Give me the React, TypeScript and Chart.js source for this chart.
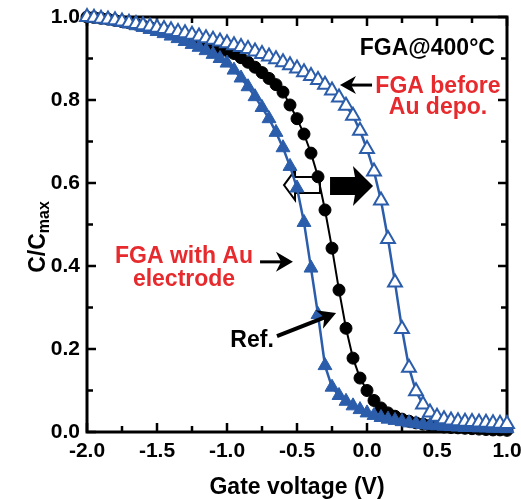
import React, { useEffect, useRef } from "react";
import { Chart, registerables } from "chart.js";

Chart.register(...registerables);

const gateVoltage = [
  -2.0, -1.95, -1.9, -1.85, -1.8, -1.75, -1.7, -1.65, -1.6, -1.55,
  -1.5, -1.45, -1.4, -1.35, -1.3, -1.25, -1.2, -1.15, -1.1, -1.05,
  -1.0, -0.95, -0.9, -0.85, -0.8, -0.75, -0.7, -0.65, -0.6, -0.55,
  -0.5, -0.45, -0.4, -0.35, -0.3, -0.25, -0.2, -0.15, -0.1, -0.05,
  0.0, 0.05, 0.1, 0.15, 0.2, 0.25, 0.3, 0.35, 0.4, 0.45,
  0.5, 0.55, 0.6, 0.65, 0.7, 0.75, 0.8, 0.85, 0.9, 0.95, 1.0,
];

const refValues = [
  1.0, 0.999, 0.997, 0.995, 0.992, 0.989, 0.986, 0.983, 0.979, 0.975,
  0.971, 0.967, 0.963, 0.958, 0.953, 0.948, 0.943, 0.937, 0.931, 0.925,
  0.919, 0.912, 0.902, 0.891, 0.879, 0.866, 0.852, 0.837, 0.819, 0.788,
  0.755, 0.718, 0.672, 0.615, 0.535, 0.443, 0.342, 0.25, 0.178, 0.13,
  0.1, 0.076, 0.058, 0.046, 0.038, 0.031, 0.026, 0.022, 0.019, 0.016,
  0.014, 0.012, 0.011, 0.01, 0.009, 0.008, 0.007, 0.006, 0.005, 0.005, 0.004,
];

const auElectrodeValues = [
  1.0, 0.998, 0.996, 0.993, 0.99, 0.987, 0.983, 0.979, 0.975, 0.97,
  0.965, 0.96, 0.954, 0.948, 0.941, 0.934, 0.927, 0.919, 0.91, 0.9,
  0.889, 0.872, 0.853, 0.832, 0.808, 0.782, 0.755, 0.722, 0.685, 0.64,
  0.588, 0.505, 0.395, 0.283, 0.16, 0.108, 0.088, 0.074, 0.063, 0.054,
  0.046, 0.04, 0.035, 0.031, 0.028, 0.025, 0.022, 0.02, 0.018, 0.016,
  0.015, 0.014, 0.013, 0.012, 0.011, 0.011, 0.01, 0.01, 0.009, 0.009, 0.008,
];

const beforeAuValues = [
  1.0, 0.998, 0.996, 0.994, 0.992, 0.989, 0.986, 0.983, 0.98, 0.977,
  0.974, 0.971, 0.968, 0.964, 0.961, 0.957, 0.953, 0.949, 0.945, 0.941,
  0.937, 0.932, 0.928, 0.923, 0.917, 0.911, 0.905, 0.898, 0.891, 0.884,
  0.876, 0.867, 0.858, 0.848, 0.837, 0.823, 0.806, 0.786, 0.762, 0.726,
  0.682, 0.628, 0.558, 0.465, 0.36, 0.248, 0.155, 0.098, 0.066, 0.047,
  0.037, 0.031, 0.028, 0.026, 0.025, 0.024, 0.023, 0.022, 0.021, 0.02, 0.019,
];

const xTickValues = [-2.0, -1.5, -1.0, -0.5, 0.0, 0.5, 1.0];
const xMinorTickValues = [-1.75, -1.25, -0.75, -0.25, 0.25, 0.75];
const yTickValues = [0.0, 0.2, 0.4, 0.6, 0.8, 1.0];
const yMinorTickValues = [0.1, 0.3, 0.5, 0.7, 0.9];

const BLUE = "#2b5dab";
const RED = "#e62a2d";
const FONT = '"Liberation Sans", Arial, sans-serif';

function drawLineArrow(
  ctx: CanvasRenderingContext2D,
  x1: number, y1: number, x2: number, y2: number,
  headLen: number, headHalf: number, width: number
) {
  const dx = x2 - x1;
  const dy = y2 - y1;
  const len = Math.hypot(dx, dy);
  const ux = dx / len;
  const uy = dy / len;
  const nx = -uy;
  const ny = ux;
  ctx.save();
  ctx.strokeStyle = "#000";
  ctx.fillStyle = "#000";
  ctx.lineWidth = width;
  ctx.beginPath();
  ctx.moveTo(x1, y1);
  ctx.lineTo(x2 - ux * headLen * 0.6, y2 - uy * headLen * 0.6);
  ctx.stroke();
  ctx.beginPath();
  ctx.moveTo(x2, y2);
  ctx.lineTo(x2 - ux * headLen + nx * headHalf, y2 - uy * headLen + ny * headHalf);
  ctx.lineTo(x2 - ux * headLen * 0.7, y2 - uy * headLen * 0.7);
  ctx.lineTo(x2 - ux * headLen - nx * headHalf, y2 - uy * headLen - ny * headHalf);
  ctx.closePath();
  ctx.fill();
  ctx.restore();
}

const decorPlugin = {
  id: "decor",
  beforeDatasetsDraw(chart: any) {
    const ctx: CanvasRenderingContext2D = chart.ctx;
    const xs = chart.scales.x;
    const ys = chart.scales.y;
    const { left, right, top, bottom } = chart.chartArea;
    ctx.save();
    ctx.strokeStyle = "#000";
    ctx.lineWidth = 3;
    ctx.strokeRect(left, top, right - left, bottom - top);
    ctx.lineWidth = 2.5;
    const major = 9;
    const minor = 6;
    ctx.beginPath();
    xTickValues.forEach((v) => {
      const px = xs.getPixelForValue(v);
      ctx.moveTo(px, bottom); ctx.lineTo(px, bottom - major);
      ctx.moveTo(px, top); ctx.lineTo(px, top + major);
    });
    xMinorTickValues.forEach((v) => {
      const px = xs.getPixelForValue(v);
      ctx.moveTo(px, bottom); ctx.lineTo(px, bottom - minor);
      ctx.moveTo(px, top); ctx.lineTo(px, top + minor);
    });
    yTickValues.forEach((v) => {
      const py = ys.getPixelForValue(v);
      ctx.moveTo(left, py); ctx.lineTo(left + major, py);
      ctx.moveTo(right, py); ctx.lineTo(right - major, py);
    });
    yMinorTickValues.forEach((v) => {
      const py = ys.getPixelForValue(v);
      ctx.moveTo(left, py); ctx.lineTo(left + minor, py);
      ctx.moveTo(right, py); ctx.lineTo(right - minor, py);
    });
    ctx.stroke();

    // hollow arrow pointing left
    const hTipX = xs.getPixelForValue(-0.593);
    const hBaseX = xs.getPixelForValue(-0.514);
    const hEndX = xs.getPixelForValue(-0.336);
    const hY = ys.getPixelForValue(0.595);
    ctx.beginPath();
    ctx.moveTo(hTipX, hY);
    ctx.lineTo(hBaseX, hY - 15);
    ctx.lineTo(hBaseX, hY - 8);
    ctx.lineTo(hEndX, hY - 8);
    ctx.lineTo(hEndX, hY + 8);
    ctx.lineTo(hBaseX, hY + 8);
    ctx.lineTo(hBaseX, hY + 15);
    ctx.closePath();
    ctx.fillStyle = "#fff";
    ctx.fill();
    ctx.lineWidth = 2;
    ctx.strokeStyle = "#000";
    ctx.stroke();

    // solid arrow pointing right
    const sStartX = xs.getPixelForValue(-0.264);
    const sBaseX = xs.getPixelForValue(-0.086);
    const sTipX = xs.getPixelForValue(0.043);
    const sY = ys.getPixelForValue(0.593);
    ctx.beginPath();
    ctx.moveTo(sStartX, sY - 9);
    ctx.lineTo(sBaseX, sY - 9);
    ctx.lineTo(sBaseX - 2, sY - 20);
    ctx.lineTo(sTipX, sY);
    ctx.lineTo(sBaseX - 2, sY + 20);
    ctx.lineTo(sBaseX, sY + 9);
    ctx.lineTo(sStartX, sY + 9);
    ctx.closePath();
    ctx.fillStyle = "#000";
    ctx.fill();
    ctx.restore();
  },
  afterDatasetsDraw(chart: any) {
    const ctx: CanvasRenderingContext2D = chart.ctx;
    const xs = chart.scales.x;
    const ys = chart.scales.y;
    const X = (v: number) => xs.getPixelForValue(v);
    const Y = (v: number) => ys.getPixelForValue(v);
    ctx.save();
    ctx.textBaseline = "alphabetic";

    ctx.font = `bold 23px ${FONT}`;
    ctx.fillStyle = "#000";
    ctx.textAlign = "right";
    ctx.fillText("FGA@400°C", X(0.914), Y(0.908));

    ctx.fillStyle = RED;
    ctx.textAlign = "center";
    ctx.fillText("FGA before", X(0.507), Y(0.817));
    ctx.fillText("Au depo.", X(0.507), Y(0.766));

    ctx.fillText("FGA with Au", X(-1.307), Y(0.407));
    ctx.fillText("electrode", X(-1.307), Y(0.352));

    ctx.fillStyle = "#000";
    ctx.fillText("Ref.", X(-0.821), Y(0.205));

    drawLineArrow(ctx, X(0.036), Y(0.836), X(-0.193), Y(0.836), 16, 9, 3);
    drawLineArrow(ctx, X(-0.764), Y(0.41), X(-0.529), Y(0.41), 17, 10, 3);
    drawLineArrow(ctx, X(-0.643), Y(0.231), X(-0.221), Y(0.287), 18, 10, 4);

    const { left, right } = chart.chartArea;
    ctx.font = `bold 23px ${FONT}`;
    ctx.textAlign = "center";
    ctx.fillText("Gate voltage (V)", (left + right) / 2, 494);

    ctx.translate(45, 237);
    ctx.rotate(-Math.PI / 2);
    ctx.font = `bold 23px ${FONT}`;
    const mainW = ctx.measureText("C/C").width;
    ctx.font = `bold 16px ${FONT}`;
    const subW = ctx.measureText("max").width;
    const startX = -(mainW + subW) / 2;
    ctx.textAlign = "left";
    ctx.font = `bold 23px ${FONT}`;
    ctx.fillText("C/C", startX, 0);
    ctx.font = `bold 16px ${FONT}`;
    ctx.fillText("max", startX + mainW, 4);
    ctx.restore();
  },
};

export default function App() {
  const canvasRef = useRef<HTMLCanvasElement | null>(null);

  useEffect(() => {
    if (!canvasRef.current) return;
    const toPoints = (vals: number[]) => gateVoltage.map((x, i) => ({ x, y: vals[i] }));
    const chart = new Chart(canvasRef.current, {
      type: "line",
      data: {
        datasets: [
          {
            label: "FGA before Au depo.",
            data: toPoints(beforeAuValues),
            borderColor: BLUE,
            borderWidth: 2.5,
            pointStyle: "triangle",
            pointRadius: 8,
            pointBackgroundColor: "#fff",
            pointBorderColor: BLUE,
            pointBorderWidth: 2,
            clip: false,
            order: 0,
          },
          {
            label: "FGA with Au electrode",
            data: toPoints(auElectrodeValues),
            borderColor: BLUE,
            borderWidth: 2.5,
            pointStyle: "triangle",
            pointRadius: 8,
            pointBackgroundColor: BLUE,
            pointBorderColor: BLUE,
            pointBorderWidth: 1,
            clip: false,
            order: 1,
          },
          {
            label: "Ref.",
            data: toPoints(refValues),
            borderColor: "#000",
            borderWidth: 2,
            pointStyle: "circle",
            pointRadius: 6,
            pointBackgroundColor: "#000",
            pointBorderColor: "#000",
            pointBorderWidth: 1,
            clip: false,
            order: 2,
          },
        ],
      },
      options: {
        responsive: false,
        animation: false,
        layout: { padding: { top: 17, right: 14, left: 0, bottom: 0 } },
        plugins: {
          legend: { display: false },
          tooltip: { enabled: false },
        },
        elements: { line: { tension: 0 } },
        scales: {
          x: {
            type: "linear",
            min: -2,
            max: 1,
            grid: { display: false, drawTicks: false },
            border: { display: false },
            afterBuildTicks: (scale: any) => {
              scale.ticks = xTickValues.map((v) => ({ value: v }));
            },
            afterFit: (scale: any) => {
              scale.height = 68;
              scale.paddingLeft = 0;
              scale.paddingRight = 0;
            },
            ticks: {
              padding: 7,
              color: "#000",
              font: { family: FONT, size: 21, weight: "bold" },
              maxRotation: 0,
              autoSkip: false,
              callback: (v: any) => Number(v).toFixed(1),
            },
          },
          y: {
            type: "linear",
            min: 0,
            max: 1,
            grid: { display: false, drawTicks: false },
            border: { display: false },
            afterBuildTicks: (scale: any) => {
              scale.ticks = yTickValues.map((v) => ({ value: v }));
            },
            afterFit: (scale: any) => {
              scale.width = 87;
              scale.paddingTop = 0;
              scale.paddingBottom = 0;
            },
            ticks: {
              padding: 7,
              color: "#000",
              font: { family: FONT, size: 21, weight: "bold" },
              autoSkip: false,
              callback: (v: any) => Number(v).toFixed(1),
            },
          },
        },
      },
      plugins: [decorPlugin],
    } as any);
    return () => chart.destroy();
  }, []);

  return (
    <div style={{ position: "absolute", left: 0, top: 0, width: 521, height: 500, background: "#fff" }}>
      <canvas ref={canvasRef} width={521} height={500} />
    </div>
  );
}
